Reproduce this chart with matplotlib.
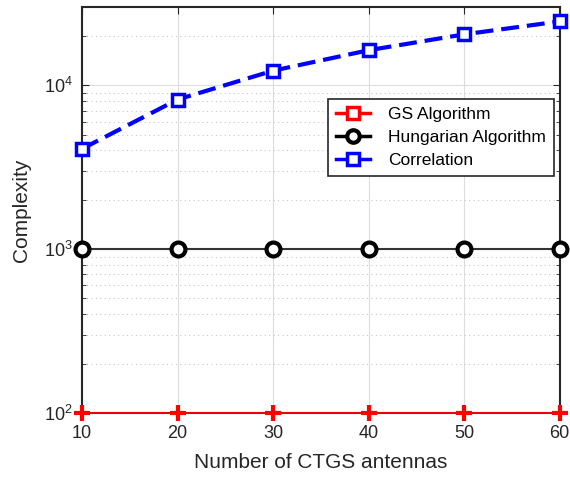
import matplotlib.pyplot as plt
from matplotlib.lines import Line2D

antennas = [10, 20, 30, 40, 50, 60]
gs_complexity = [100, 100, 100, 100, 100, 100]
hungarian_complexity = [1000, 1000, 1000, 1000, 1000, 1000]
correlation_complexity = [4096, 8192, 12288, 16384, 20480, 24576]
labels = ['GS Algorithm', 'Hungarian Algorithm', 'Correlation']

plt.rcParams['font.family'] = ['Liberation Sans', 'DejaVu Sans']

fig = plt.figure(figsize=(5.7, 4.8), dpi=100)
ax = fig.add_axes([0.144, 0.140, 0.838, 0.845])

ax.plot(antennas, gs_complexity, color='#ff0000', lw=1.3, marker='+',
        ms=11, mew=3, zorder=5, clip_on=False)
ax.plot(antennas, hungarian_complexity, color='#333333', lw=1.5, marker='o',
        ms=10, mew=3, mfc='white', mec='black', zorder=4, clip_on=False)
ax.plot(antennas, correlation_complexity, color='#0000ff', lw=3, ls=(0, (4.3, 1.9)),
        marker='s', ms=9, mew=2.5, mfc='white', zorder=4, clip_on=False)

ax.set_yscale('log')
ax.set_xlim(10, 60)
ax.set_ylim(100, 3e4)
ax.set_xticks(antennas)

ax.grid(True, which='major', color='#dcdcdc', lw=0.8, ls='-')
ax.grid(True, which='minor', axis='y', color='#c8c8c8', lw=0.8, ls=(0, (1, 3)))
ax.set_axisbelow(True)

ax.tick_params(which='both', direction='in', top=True, right=True,
               labelsize=13, colors='#262626')
ax.tick_params(which='major', length=5)
ax.tick_params(which='minor', length=3)
ax.tick_params(axis='x', pad=9)
ax.tick_params(axis='y', pad=7)
for s in ax.spines.values():
    s.set_color('#262626')
    s.set_linewidth(1.5)

ax.set_xlabel('Number of CTGS antennas', fontsize=15, color='#262626', labelpad=8)
ax.set_ylabel('Complexity', fontsize=15, color='#262626', labelpad=9)

handles = [
    Line2D([], [], color='#ff0000', lw=2.5, marker='s', ms=8, mew=2.5, mfc='white'),
    Line2D([], [], color='black', lw=2.5, marker='o', ms=9, mew=3, mfc='white'),
    Line2D([], [], color='#0000ff', lw=2.5, marker='s', ms=8, mew=2.5, mfc='white'),
]
leg = ax.legend(handles, labels, loc='upper right', bbox_to_anchor=(0.987, 0.773),
                borderaxespad=0, fontsize=12.5, fancybox=False, framealpha=1,
                edgecolor='#262626', handlelength=2.0, labelspacing=0.45,
                borderpad=0.45, handletextpad=1.0)
leg.get_frame().set_linewidth(1.2)
leg.set_zorder(6)

fig.savefig('out.png', dpi=100)
